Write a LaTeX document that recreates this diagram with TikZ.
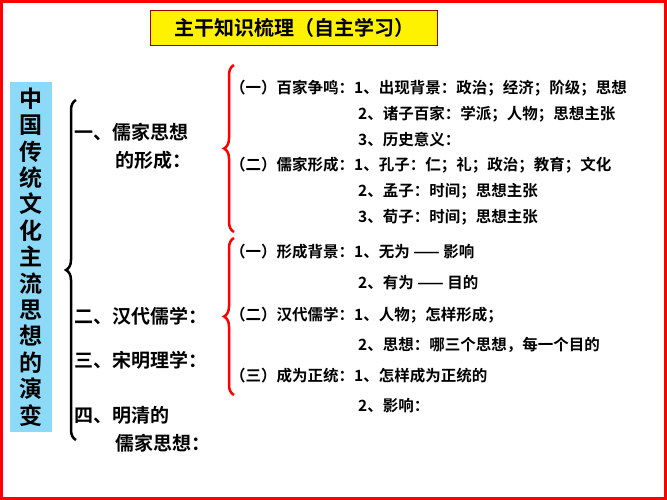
\documentclass[tikz,border=0pt]{standalone}
\usepackage{fontspec}
\newfontfamily\cjk{Noto Sans CJK SC}[BoldFont={Noto Sans CJK SC Bold}]
\usetikzlibrary{decorations.pathreplacing}
\tikzset{
    itemtext/.style={anchor=west, font=\cjk\bfseries\fontsize{15.5}{17}\selectfont, inner sep=0pt},
    parttext/.style={anchor=west, font=\cjk\bfseries\fontsize{19}{22}\selectfont, inner sep=0pt},
    bigbrace/.style={decorate, decoration={brace, amplitude=10pt}, line width=2.5pt},
}
\begin{document}
\begin{tikzpicture}[x=1pt,y=-1pt]
\useasboundingbox (0,0) rectangle (667,500);
% frame and title
\draw[red, line width=3pt] (1.5,1.5) rectangle (665.5,498.5);
\node[draw=red!60!black, line width=1.2pt, fill=yellow, minimum width=287pt, minimum height=35pt,
  font=\cjk\bfseries\fontsize{20}{22}\selectfont] (title) at (294,28) {主干知识梳理（自主学习）};

% vertical heading
\node[fill=cyan!45, minimum width=42pt, minimum height=350pt, align=center,
  font=\cjk\bfseries\fontsize{23}{26.4}\selectfont, inner sep=0pt] (topic) at (31,257)
  {中\\国\\传\\统\\文\\化\\主\\流\\思\\想\\的\\演\\变};
\draw[bigbrace] (76,440) -- (76,100) coordinate[pos=0.5] (bracetip);

% parts
\node[parttext] (p1a) at (74,132) {一、儒家思想};
\node[parttext] (p1b) at (115,160) {的形成：};
\node[parttext] (p2) at (74,316) {二、汉代儒学：};
\node[parttext] (p3) at (74,360) {三、宋明理学：};
\node[parttext] (p4a) at (74,415) {四、明清的};
\node[parttext] (p4b) at (115,443) {儒家思想：};

% red braces
\draw[bigbrace, red] (234,232) -- (234,65);
\draw[bigbrace, red] (234,395) -- (234,238);

% first group
\node[itemtext] (a1) at (230,88) {（一）百家争鸣：1、出现背景：政治；经济；阶级；思想};
\node[itemtext] (a2) at (358,114) {2、诸子百家：学派；人物；思想主张};
\node[itemtext] (a3) at (358,140) {3、历史意义：};
\node[itemtext] (b1) at (230,165) {（二）儒家形成：1、孔子：仁；礼；政治；教育；文化};
\node[itemtext] (b2) at (358,191) {2、孟子：时间；思想主张};
\node[itemtext] (b3) at (358,217) {3、荀子：时间；思想主张};

% second group
\node[itemtext] (c1) at (230,252) {（一）形成背景：1、无为 —— 影响};
\node[itemtext] (c2) at (358,283) {2、有为 —— 目的};
\node[itemtext] (d1) at (230,315) {（二）汉代儒学：1、人物；怎样形成；};
\node[itemtext] (d2) at (358,345) {2、思想：哪三个思想，每一个目的};
\node[itemtext] (e1) at (230,376) {（三）成为正统：1、怎样成为正统的};
\node[itemtext] (e2) at (358,406) {2、影响：};
\end{tikzpicture}
\end{document}
